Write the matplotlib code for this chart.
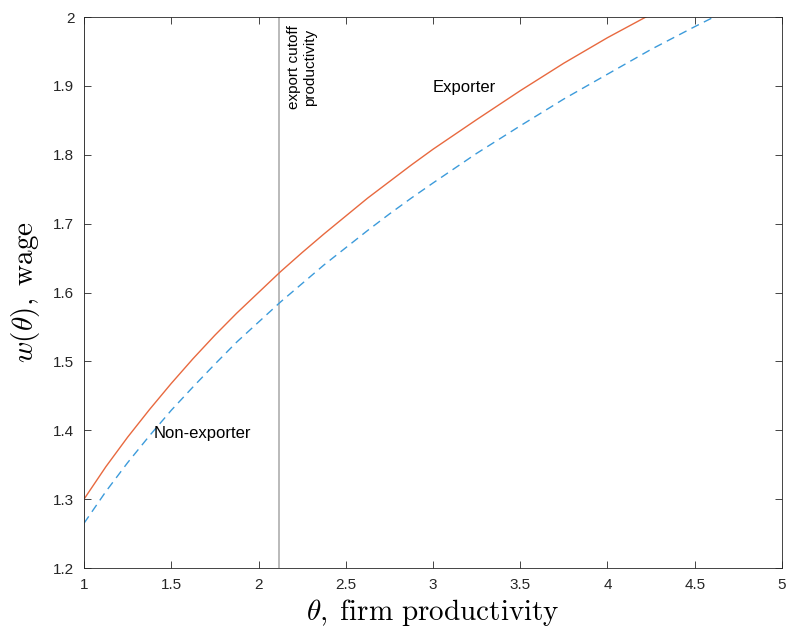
import numpy as np
import matplotlib
matplotlib.use('Agg')
import matplotlib.pyplot as plt

plt.rcParams['font.family'] = ['Liberation Sans', 'DejaVu Sans']
plt.rcParams['mathtext.fontset'] = 'cm'

# wage schedules
theta_exp = [1.0, 1.125, 1.25, 1.375, 1.5, 1.625, 1.75, 1.875, 2.0, 2.125, 2.25,
             2.375, 2.5, 2.625, 2.75, 2.875, 3.0, 3.25, 3.5, 3.75, 4.0, 4.22]
w_exp = [1.300, 1.347, 1.390, 1.430, 1.468, 1.504, 1.538, 1.570, 1.600, 1.630, 1.658,
         1.685, 1.711, 1.737, 1.761, 1.785, 1.808, 1.851, 1.893, 1.933, 1.970, 2.000]
theta_non = [1.0, 1.125, 1.25, 1.375, 1.5, 1.625, 1.75, 1.875, 2.0, 2.125, 2.25,
             2.375, 2.5, 2.625, 2.75, 2.875, 3.0, 3.25, 3.5, 3.75, 4.0, 4.25, 4.5, 4.61]
w_non = [1.265, 1.311, 1.353, 1.392, 1.429, 1.463, 1.496, 1.528, 1.557, 1.586, 1.613,
         1.640, 1.665, 1.690, 1.714, 1.737, 1.759, 1.802, 1.842, 1.881, 1.917, 1.953,
         1.986, 2.000]
cutoff = 2.12

xticks = [1, 1.5, 2, 2.5, 3, 3.5, 4, 4.5, 5]
yticks = [1.2, 1.3, 1.4, 1.5, 1.6, 1.7, 1.8, 1.9, 2]

fig = plt.figure(figsize=(7.86, 6.3), dpi=100)
ax = fig.add_axes([0.1069, 0.0984, 0.888, 0.8746])

ax.plot(theta_exp, w_exp, color='#E8693F', lw=1.0)
ax.plot(theta_non, w_non, color='#3C9BDB', lw=1.0, ls=(0, (6, 4)))
ax.axvline(1, color='#bababa', lw=1.4, zorder=1)
ax.axvline(cutoff, color='#bababa', lw=1.4, zorder=1)

ax.text(3.0, 1.897, 'Exporter', fontsize=12, va='center', ha='left')
ax.text(1.4, 1.396, 'Non-exporter', fontsize=12, va='center', ha='left')
ax.text(2.163, 1.988, 'export cutoff\nproductivity', fontsize=11, rotation=90,
        ha='left', va='top', multialignment='center')

ax.set_xlim(1, 5)
ax.set_ylim(1.2, 2)
ax.set_xticks(xticks)
ax.set_yticks(yticks)
ax.set_xticklabels(['1', '1.5', '2', '2.5', '3', '3.5', '4', '4.5', '5'])
ax.set_yticklabels(['1.2', '1.3', '1.4', '1.5', '1.6', '1.7', '1.8', '1.9', '2'])
ax.tick_params(direction='in', top=True, right=True, length=5, width=0.6,
               labelsize=11, colors='#262626', pad=7)
for s in ax.spines.values():
    s.set_color('#262626')
    s.set_linewidth(0.6)

ax.set_xlabel(r'$\theta,\;\mathrm{firm\ productivity}$', fontsize=21, labelpad=4)
ax.set_ylabel(r'$w(\theta),\;\mathrm{wage}$', fontsize=21, labelpad=8)

fig.savefig('out.png', dpi=100)
